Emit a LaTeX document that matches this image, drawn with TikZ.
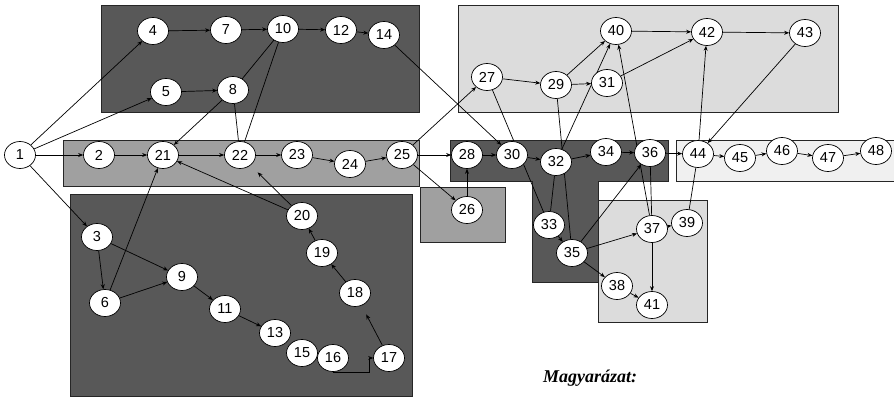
\documentclass[tikz,border=0pt]{standalone}
\usepackage{fontspec}
\setmainfont{Liberation Sans}
\newfontfamily\legendfont{Liberation Serif}
\usetikzlibrary{arrows.meta,shapes.geometric}
\definecolor{dk}{HTML}{585858}
\definecolor{md}{HTML}{A0A0A0}
\definecolor{lt}{HTML}{DCDCDC}
\definecolor{vl}{HTML}{F0F0F0}
\pgfdeclarelayer{bg}
\pgfdeclarelayer{edges}
\pgfsetlayers{bg,edges,main}
\begin{document}
\begin{tikzpicture}[x=1pt,y=-1pt,
  nd/.style={ellipse, draw=black, fill=white, line width=0.7pt, minimum width=31pt, minimum height=27pt, inner sep=0pt, font=\fontsize{14.5}{14.5}\selectfont},
  arr/.style={-{Stealth[length=5pt,width=4pt]}, line width=0.7pt},
  ln/.style={line width=0.7pt},
  boxd/.style={fill=dk, draw=black!85, line width=0.8pt},
  boxm/.style={fill=md, draw=black!85, line width=0.8pt},
  boxl/.style={fill=lt, draw=black!85, line width=0.8pt},
  boxv/.style={fill=vl, draw=black!85, line width=0.8pt}]
\useasboundingbox (0,0) rectangle (894,399);
\begin{pgfonlayer}{bg}
\fill[white] (0,0) rectangle (894,399);
\draw[boxd] (101,5) rectangle (419,112);
\draw[boxm] (63,140) rectangle (419,186);
\draw[boxm] (420,187) rectangle (505,242);
\draw[boxd] (70,194) rectangle (412,396);
\draw[boxl] (458,5) rectangle (838,112);
\draw[boxd] (450,140) -- (668,140) -- (668,181) -- (598,181) -- (598,282) -- (532,282) -- (532,181) -- (450,181) -- cycle;
\draw[boxl] (598,200) rectangle (707,322);
\draw[boxv] (676,140) rectangle (898,181);
\end{pgfonlayer}
% nodes
\node[nd] (n1) at (20,155) {1};
\node[nd] (n2) at (99,155) {2};
\node[nd] (n3) at (97,237) {3};
\node[nd] (n4) at (153,31) {4};
\node[nd] (n5) at (166,92) {5};
\node[nd] (n6) at (105,303) {6};
\node[nd] (n7) at (226,30) {7};
\node[nd] (n8) at (233,90) {8};
\node[nd] (n9) at (182,277) {9};
\node[nd] (n10) at (283,29) {10};
\node[nd] (n11) at (225,309) {11};
\node[nd] (n12) at (341,30) {12};
\node[nd] (n13) at (275,333) {13};
\node[nd] (n14) at (384,35) {14};
\node[nd] (n15) at (302,353) {15};
\node[nd] (n16) at (333,358) {16};
\node[nd] (n17) at (389,358) {17};
\node[nd] (n18) at (355,293) {18};
\node[nd] (n19) at (322,253) {19};
\node[nd] (n20) at (302,216) {20};
\node[nd] (n21) at (163,155) {21};
\node[nd] (n22) at (240,155) {22};
\node[nd] (n23) at (297,155) {23};
\node[nd] (n24) at (350,164) {24};
\node[nd] (n25) at (402,155) {25};
\node[nd] (n26) at (467,210) {26};
\node[nd] (n27) at (487,77) {27};
\node[nd] (n28) at (467,155) {28};
\node[nd] (n29) at (556,85) {29};
\node[nd] (n30) at (512,155) {30};
\node[nd] (n31) at (607,83) {31};
\node[nd] (n32) at (556,162) {32};
\node[nd] (n33) at (549,225) {33};
\node[nd] (n34) at (606,152) {34};
\node[nd] (n35) at (572,253) {35};
\node[nd] (n36) at (650,153) {36};
\node[nd] (n37) at (652,229) {37};
\node[nd] (n38) at (617,286) {38};
\node[nd] (n39) at (687,223) {39};
\node[nd] (n40) at (616,31) {40};
\node[nd] (n41) at (652,305) {41};
\node[nd] (n42) at (707,32) {42};
\node[nd] (n43) at (805,33) {43};
\node[nd] (n44) at (698,154) {44};
\node[nd] (n45) at (740,158) {45};
\node[nd] (n46) at (782,151) {46};
\node[nd] (n47) at (828,158) {47};
\node[nd] (n48) at (876,151) {48};
\node[font=\legendfont\bfseries\itshape\fontsize{18}{18}\selectfont] (leg) at (590,378) {Magyarázat:};
% edges
\begin{pgfonlayer}{edges}
\draw[arr] (n1) -- (n4);
\draw[arr] (n1) -- (n5);
\draw[arr] (n1) -- (n2);
\draw[arr] (n1) -- (n3);
\draw[arr] (n2) -- (n21);
\draw[arr] (n4) -- (n7);
\draw[arr] (n7) -- (n10);
\draw[arr] (n10) -- (n12);
\draw[arr] (n12) -- (n14);
\draw[arr] (n5) -- (n8);
\draw[arr] (n8) -- (n21);
\draw[ln] (n8) -- (n22);
\draw[ln] (n10) -- (n22);
\draw[ln] (n8) -- (n10);
\draw[arr] (n14) -- (n30);
\draw[arr] (n21) -- (n22);
\draw[arr] (n22) -- (n23);
\draw[arr] (n23) -- (n24);
\draw[arr] (n24) -- (n25);
\draw[arr] (n25) -- (n27);
\draw[arr] (n25) -- (n28);
\draw[arr] (n25) -- (n26);
\draw[arr] (n26) -- (n28);
\draw[arr] (n28) -- (n30);
\draw[arr] (n30) -- (n32);
\draw[arr] (n27) -- (n29);
\draw[ln] (n27) -- (n33);
\draw[arr] (n29) -- (n31);
\draw[arr] (n29) -- (n40);
\draw[ln] (n29) -- (n35);
\draw[arr] (n32) -- (n40);
\draw[arr] (n31) -- (n42);
\draw[arr] (n40) -- (n42);
\draw[arr] (n42) -- (n43);
\draw[arr] (n43) -- (n44);
\draw[arr] (n44) -- (n42);
\draw[arr] (n32) -- (n34);
\draw[arr] (n34) -- (n36);
\draw[arr] (n36) -- (n44);
\draw[arr] (n44) -- (n45);
\draw[arr] (n45) -- (n46);
\draw[arr] (n46) -- (n47);
\draw[arr] (n47) -- (n48);
\draw[ln] (n32) -- (n33);
\draw[arr] (n33) -- (n35);
\draw[arr] (n35) -- (n36);
\draw[arr] (n35) -- (n37);
\draw[arr] (n35) -- (n38);
\draw[arr] (n38) -- (n41);
\draw[arr] (n37) -- (n41);
\draw[arr] (n37) -- (n39);
\draw[arr] (n37) -- (n40);
\draw[ln] (n36) -- (n37);
\draw[ln] (n44) -- (n39);
\draw[arr] (n3) -- (n6);
\draw[arr] (n3) -- (n9);
\draw[arr] (n6) -- (n9);
\draw[arr] (n6) -- (n21);
\draw[arr] (n9) -- (n11);
\draw[arr] (n11) -- (n13);
\draw[ln] (n16.south) -| ([xshift=-4pt]n17.west);
\draw[arr] ([xshift=-4pt]n17.west) -- (n17.west);
\draw[arr, shorten >=10pt] (n17) -- (n18);
\draw[arr] (n18) -- (n19);
\draw[arr] (n19) -- (n20);
\draw[arr] (n20) -- (n21);
\draw[arr, shorten >=10pt] (n20) -- (n22);
\end{pgfonlayer}
\end{tikzpicture}
\end{document}
